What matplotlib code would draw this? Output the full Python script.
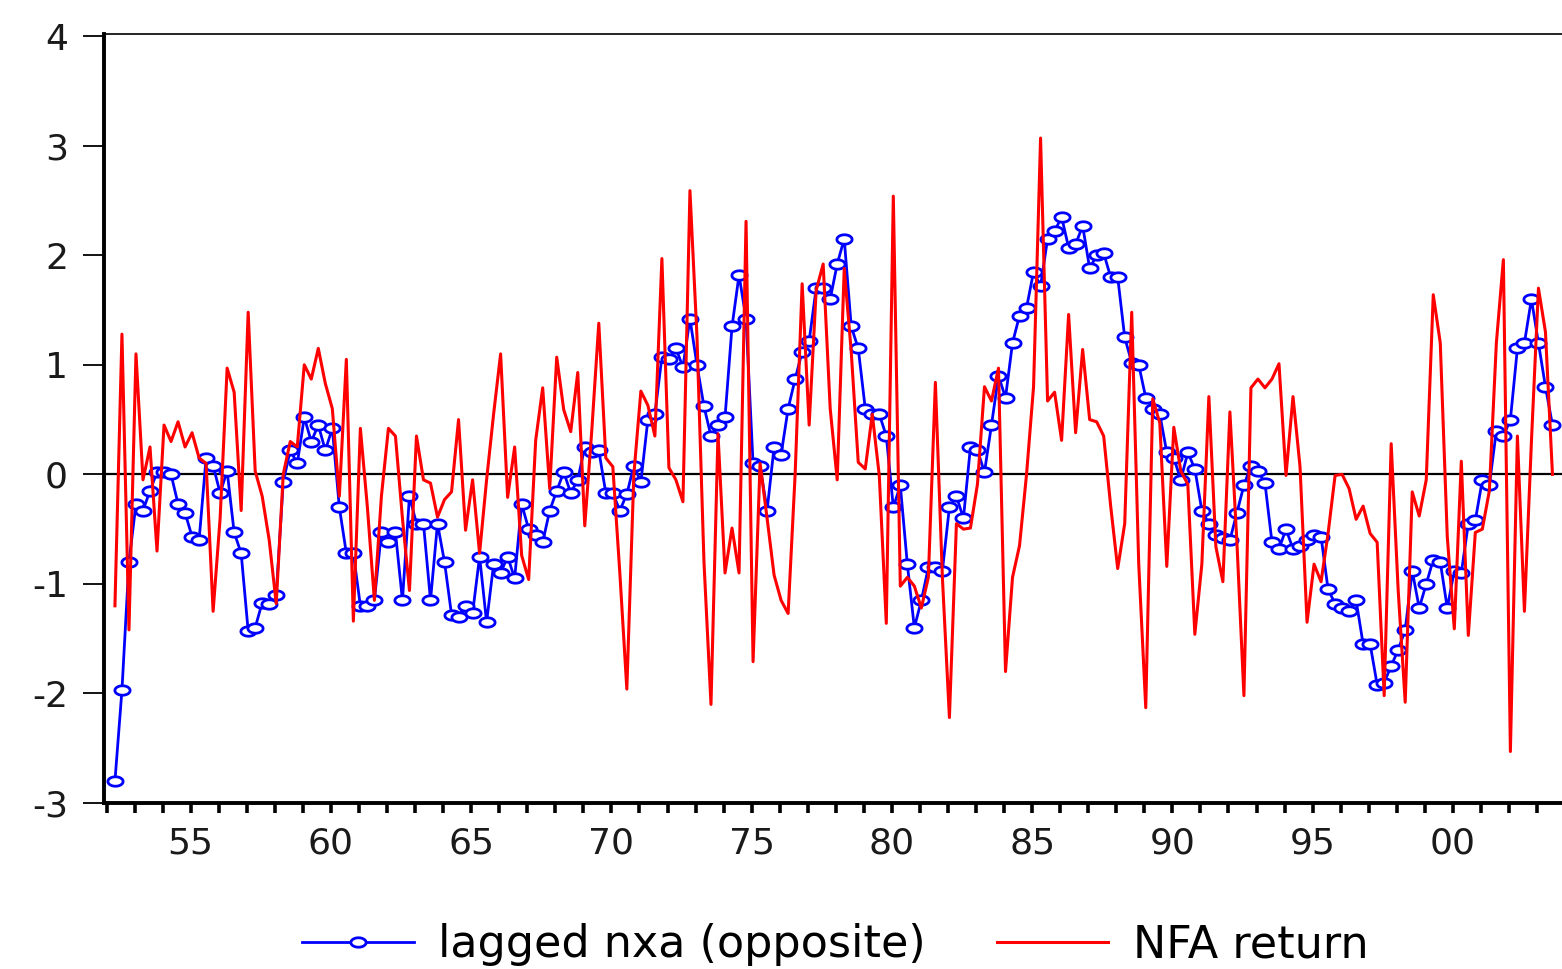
import matplotlib
matplotlib.use("Agg")
import matplotlib.pyplot as plt
import numpy as np
from matplotlib.path import Path
from matplotlib.ticker import FixedLocator, MultipleLocator

plt.rcParams['font.family'] = ['DejaVu Sans']
plt.rcParams['axes.unicode_minus'] = False

# quarterly observations, first one plotted at 1952.3
first_obs = 1952.3
step = 0.25

nxa_lagged = [
    -2.80, -1.97, -0.80, -0.27, -0.33, -0.15, 0.02, 0.02, 0.00, -0.27,
    -0.35, -0.57, -0.60, 0.15, 0.08, -0.17, 0.03, -0.53, -0.72, -1.43,
    -1.40, -1.17, -1.18, -1.10, -0.07, 0.22, 0.10, 0.52, 0.30, 0.45,
    0.22, 0.42, -0.30, -0.72, -0.72, -1.20, -1.20, -1.15, -0.53, -0.62,
    -0.53, -1.15, -0.20, -0.45, -0.45, -1.15, -0.45, -0.80, -1.28, -1.30,
    -1.20, -1.27, -0.75, -1.35, -0.82, -0.90, -0.75, -0.95, -0.27, -0.50,
    -0.55, -0.62, -0.33, -0.15, 0.02, -0.17, -0.05, 0.25, 0.20, 0.22,
    -0.17, -0.17, -0.33, -0.18, 0.08, -0.07, 0.50, 0.55, 1.07, 1.05,
    1.15, 0.98, 1.42, 1.00, 0.62, 0.35, 0.45, 0.52, 1.35, 1.82,
    1.42, 0.10, 0.08, -0.33, 0.25, 0.18, 0.60, 0.87, 1.12, 1.22,
    1.70, 1.70, 1.60, 1.92, 2.15, 1.35, 1.15, 0.60, 0.55, 0.55,
    0.35, -0.30, -0.10, -0.82, -1.40, -1.15, -0.85, -0.85, -0.88, -0.30,
    -0.20, -0.40, 0.25, 0.22, 0.02, 0.45, 0.90, 0.70, 1.20, 1.45,
    1.52, 1.85, 1.72, 2.15, 2.22, 2.35, 2.07, 2.10, 2.27, 1.88,
    2.00, 2.02, 1.80, 1.80, 1.25, 1.02, 1.00, 0.70, 0.60, 0.55,
    0.20, 0.15, -0.05, 0.20, 0.05, -0.33, -0.45, -0.55, -0.58, -0.60,
    -0.35, -0.10, 0.08, 0.03, -0.08, -0.62, -0.68, -0.50, -0.68, -0.65,
    -0.60, -0.55, -0.57, -1.05, -1.18, -1.22, -1.25, -1.15, -1.55, -1.55,
    -1.92, -1.90, -1.75, -1.60, -1.42, -0.88, -1.22, -1.00, -0.78, -0.80,
    -1.22, -0.88, -0.90, -0.45, -0.42, -0.05, -0.10, 0.40, 0.35, 0.50,
    1.15, 1.20, 1.60, 1.20, 0.80, 0.45,
]

nfa_return = [
    -1.20, 1.28, -1.42, 1.10, -0.05, 0.25, -0.70, 0.45, 0.30, 0.48,
    0.25, 0.38, 0.15, 0.10, -1.25, -0.40, 0.97, 0.75, -0.33, 1.48,
    0.03, -0.20, -0.60, -1.18, 0.00, 0.30, 0.25, 1.00, 0.87, 1.15,
    0.83, 0.60, -0.20, 1.05, -1.34, 0.42, -0.30, -1.15, -0.20, 0.42,
    0.35, -0.40, -1.06, 0.35, -0.05, -0.08, -0.39, -0.23, -0.16, 0.50,
    -0.51, -0.05, -0.72, -0.05, 0.55, 1.10, -0.21, 0.25, -0.74, -0.96,
    0.31, 0.79, -0.13, 1.07, 0.59, 0.39, 0.93, -0.47, 0.40, 1.38,
    0.15, 0.07, -0.90, -1.96, 0.00, 0.76, 0.63, 0.35, 1.97, 0.06,
    -0.05, -0.25, 2.59, 1.26, -0.80, -2.10, 0.37, -0.90, -0.49, -0.90,
    2.31, -1.71, 0.10, -0.40, -0.92, -1.15, -1.27, 0.00, 1.74, 0.45,
    1.68, 1.92, 0.60, -0.05, 1.88, 1.12, 0.11, 0.05, 0.55, -0.01,
    -1.36, 2.54, -1.02, -0.94, -1.02, -1.22, -0.94, 0.84, -0.94, -2.22,
    -0.45, -0.50, -0.49, -0.09, 0.80, 0.67, 0.97, -1.80, -0.94, -0.65,
    0.00, 0.80, 3.07, 0.67, 0.75, 0.31, 1.46, 0.38, 1.14, 0.50,
    0.48, 0.35, -0.29, -0.86, -0.45, 1.48, -0.82, -2.13, 0.69, 0.47,
    -0.84, 0.43, 0.03, -0.09, -1.46, -0.82, 0.71, -0.66, -0.98, 0.57,
    -0.62, -2.02, 0.79, 0.87, 0.79, 0.87, 1.01, -0.01, 0.71, 0.07,
    -1.35, -0.82, -0.98, -0.54, -0.01, 0.00, -0.13, -0.41, -0.29, -0.54,
    -0.62, -2.02, 0.28, -1.06, -2.08, -0.16, -0.38, -0.05, 1.64, 1.20,
    -0.57, -1.41, 0.12, -1.47, -0.53, -0.50, -0.15, 1.20, 1.96, -2.53,
    0.35, -1.25, 0.30, 1.70, 1.30, 0.00,
]

tick_years = [1955, 1960, 1965, 1970, 1975, 1980, 1985, 1990, 1995, 2000]
tick_labels = ['55', '60', '65', '70', '75', '80', '85', '90', '95', '00']
y_ticks = [-3, -2, -1, 0, 1, 2, 3, 4]

dates = first_obs + step * np.arange(len(nxa_lagged))

# flattened circle marker (the original picture is stretched sideways)
t = np.linspace(0, 2 * np.pi, 25)
oval = Path(np.column_stack([np.cos(t), 0.62 * np.sin(t)]), closed=True)

fig = plt.figure(figsize=(15.62, 9.69), dpi=100)
ax = fig.add_axes([104 / 1562, 1 - 803 / 969, 1 - 104 / 1562, (803 - 34) / 969])

ax.axhline(0, color='black', lw=1.6, zorder=1)
ax.plot(dates, nxa_lagged, color='#0000ff', lw=2.0, marker=oval, ms=11,
        mfc='white', mec='#0000ff', mew=2.0, label='lagged nxa (opposite)', zorder=2)
ax.plot(dates, nfa_return, color='#ff0000', lw=2.2, label='NFA return', zorder=3)

ax.set_xlim(1951.91, 2003.89)
ax.set_ylim(-3, 4.02)

ax.spines['right'].set_visible(False)
ax.spines['left'].set_linewidth(2.8)
ax.spines['bottom'].set_linewidth(2.8)
ax.spines['top'].set_linewidth(1.2)

ax.set_yticks(y_ticks)
ax.set_yticklabels([str(v) for v in y_ticks])
ax.tick_params(axis='y', direction='out', length=15, width=1.3, pad=11,
               labelsize=26, labelcolor='#1a1a1a')

ax.xaxis.set_major_locator(FixedLocator(tick_years))
ax.set_xticklabels(tick_labels)
ax.xaxis.set_minor_locator(MultipleLocator(1))
ax.tick_params(axis='x', which='both', direction='out', length=7, width=2.6,
               pad=10, labelsize=26, labelcolor='#1a1a1a')

fig.legend(loc='center', bbox_to_anchor=(0.535, 0.025), ncol=2, frameon=False,
           fontsize=32, handlelength=2.5, handletextpad=0.56, columnspacing=1.6)

fig.savefig('out.png', dpi=100)
